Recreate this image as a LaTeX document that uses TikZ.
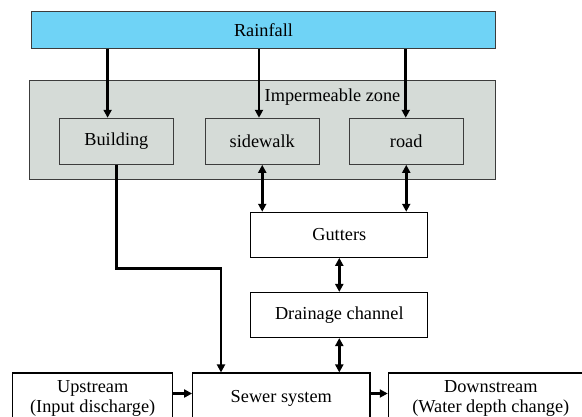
\documentclass[tikz,border=0pt]{standalone}
\usepackage{fontspec}
\setmainfont{Liberation Serif}
\newfontfamily\timesfont{Liberation Serif}
\usetikzlibrary{arrows.meta,calc}
\definecolor{rainblue}{HTML}{6FD3F6}
\definecolor{zonegray}{HTML}{D5DBD7}
\definecolor{edgegray}{HTML}{3C3C3C}
\begin{document}
\begin{tikzpicture}[x=1pt,y=-1pt,
  font=\timesfont\fontsize{18.3}{20}\selectfont,
  box/.style={draw=black, line width=1.1pt, rectangle, inner sep=0pt, align=center, fill=white},
  rainbox/.style={draw=edgegray, line width=1.1pt, fill=rainblue, rectangle, inner sep=0pt},
  zonebox/.style={draw=edgegray, line width=1.1pt, fill=zonegray, rectangle, inner sep=0pt},
  subbox/.style={draw=edgegray, line width=1.1pt, rectangle, inner sep=0pt, minimum width=114pt, minimum height=46pt},
  arr/.style={line width=2.6pt, line join=miter, -{Triangle[length=8pt,width=8pt]}},
  darr/.style={line width=2.6pt, {Triangle[length=8pt,width=8pt]}-{Triangle[length=8pt,width=8pt]}}
]
\useasboundingbox (0,0) rectangle (582,416);
\clip (0,0) rectangle (582,416);

\node[rainbox, minimum width=464pt, minimum height=36.6pt] (rain) at (263.5,30) {Rainfall};
\node[zonebox, minimum width=465.8pt, minimum height=99pt] (zone) at (262.6,129.8) {};
\node[inner sep=0pt] (zlabel) at (332.5,97) {Impermeable\ zone};
\node[subbox] (build) at (116.35,141.3) {Building};
\node[subbox] (side) at (262.25,141.3) {sidewalk};
\node[subbox] (road) at (406.25,141.3) {road};

\node[box, minimum width=177pt, minimum height=45pt] (gut) at (339.3,234.8) {Gutters};
\node[box, minimum width=177pt, minimum height=45pt] (drain) at (339.3,315) {Drainage\ channel};

\node[box, minimum width=177.3pt, minimum height=50pt] (sewer) at (281.3,398) {Sewer system};
\node[box, minimum width=160pt, minimum height=50pt] (up) at (92.7,398) {Upstream\\(Input discharge)};
\node[box, minimum width=205pt, minimum height=50pt] (down) at (490.8,398) {Downstream\\(Water depth change)};

% rainfall arrows
\draw[arr] ($(rain.south -| build.north)+(-8.75,0)$) -- ($(build.north)+(-8.75,0)$);
\draw[arr] ($(rain.south -| side.north)+(-3.25,0)$) -- ($(side.north)+(-3.25,0)$);
\draw[arr] ($(rain.south -| road.north)+(-0.5,0)$) -- ($(road.north)+(-0.5,0)$);

% surface to gutters
\draw[darr] (side.south) -- (side.south |- gut.north);
\draw[darr] (road.south) -- (road.south |- gut.north);
\draw[darr] (gut.south) -- (drain.north);
\draw[darr] (drain.south) -- (drain.south |- sewer.north);

% building to sewer
\coordinate (sin) at ($(sewer.north)+(-60.3,0)$);
\coordinate (turn) at (0,268.3);
\draw[arr] (build.south) -- (build.south |- turn) -- (sin |- turn) -- (sin);

% upstream / downstream
\draw[arr] ($(up.east)+(0,-4.5)$) -- ($(sewer.west)+(0,-4.5)$);
\draw[arr] ($(sewer.east)+(0,-4.5)$) -- ($(down.west)+(0,-4.5)$);
\end{tikzpicture}
\end{document}
